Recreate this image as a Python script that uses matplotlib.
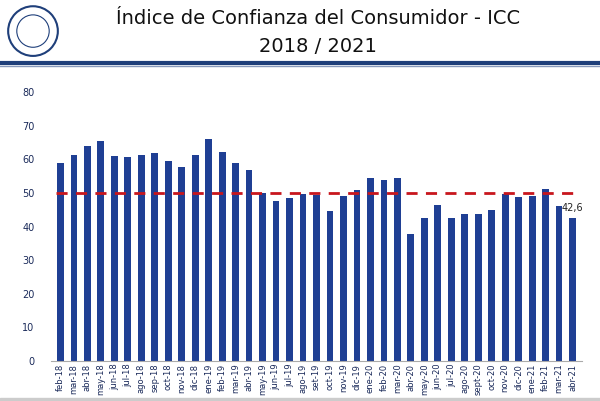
import numpy as np
import matplotlib.pyplot as plt
from matplotlib.patches import Circle

months = ["feb-18", "mar-18", "abr-18", "may-18", "jun-18", "jul-18", "ago-18", "sep-18",
          "oct-18", "nov-18", "dic-18", "ene-19", "feb-19", "mar-19", "abr-19", "may-19",
          "jun-19", "jul-19", "ago-19", "set-19", "oct-19", "nov-19", "dic-19", "ene-20",
          "feb-20", "mar-20", "abr-20", "may-20", "jun-20", "jul-20", "ago-20", "sept-20",
          "oct-20", "nov-20", "dic-20", "ene-21", "feb-21", "mar-21", "abr-21"]
icc = [59.0, 61.3, 64.0, 65.5, 61.0, 60.6, 61.3, 62.0, 59.4, 57.6, 61.3, 66.2, 62.3,
       58.8, 56.9, 50.0, 47.6, 48.6, 49.8, 49.3, 44.7, 49.2, 50.8, 54.4, 53.9, 54.4,
       37.8, 42.6, 46.4, 42.6, 43.8, 43.6, 45.0, 49.6, 48.8, 49.2, 51.2, 46.0, 42.6]
threshold = 50

navy = "#1f3f94"
fig = plt.figure(figsize=(6, 4.01), dpi=100)
ax = fig.add_axes([0.085, 0.1, 0.885, 0.67])
x = np.arange(len(months))
ax.bar(x, icc, width=0.5, color=navy)
ax.plot([-0.3, len(months) - 1 + 0.3], [threshold, threshold], color="#c8161d",
        linestyle=(0, (4, 3)), linewidth=2)
ax.text(x[-1], icc[-1] + 1.5, "42,6", fontsize=7, color="#222222", va="bottom", ha="center")
ax.set_ylim(0, 80)
ax.set_xlim(-0.7, len(months) - 0.3)
ax.set_yticks(range(0, 81, 10))
ax.set_xticks(x)
ax.set_xticklabels(months, rotation=90, fontsize=6, color="#1a2a5a")
ax.tick_params(axis="y", length=0, labelsize=7, colors="#1a2a5a", pad=12)
ax.tick_params(axis="x", length=0, pad=2)
for s in ["top", "right", "left"]:
    ax.spines[s].set_visible(False)
ax.spines["bottom"].set_color("#aaaaaa")

fig.text(0.53, 0.955, "Índice de Confianza del Consumidor - ICC", ha="center", va="center",
         fontsize=14, color="#111111")
fig.text(0.53, 0.885, "2018 / 2021", ha="center", va="center", fontsize=14, color="#111111")
fig.add_artist(plt.Line2D([0, 1], [0.843, 0.843], color="#1f3f7a", linewidth=3))
fig.add_artist(plt.Line2D([0, 1], [0.835, 0.835], color="#8899bb", linewidth=1))
logo = fig.add_axes([0.01, 0.855, 0.09, 0.135])
logo.add_patch(Circle((0.5, 0.5), 0.46, fill=False, edgecolor="#1f3f7a", linewidth=1.5))
logo.add_patch(Circle((0.5, 0.5), 0.3, fill=False, edgecolor="#1f3f7a", linewidth=0.8))
logo.set_xlim(0, 1)
logo.set_ylim(0, 1)
logo.set_aspect("equal")
logo.axis("off")
fig.add_artist(plt.Rectangle((0, 0), 1, 0.008, color="#cccccc", transform=fig.transFigure))

fig.savefig("out.png", dpi=100)
